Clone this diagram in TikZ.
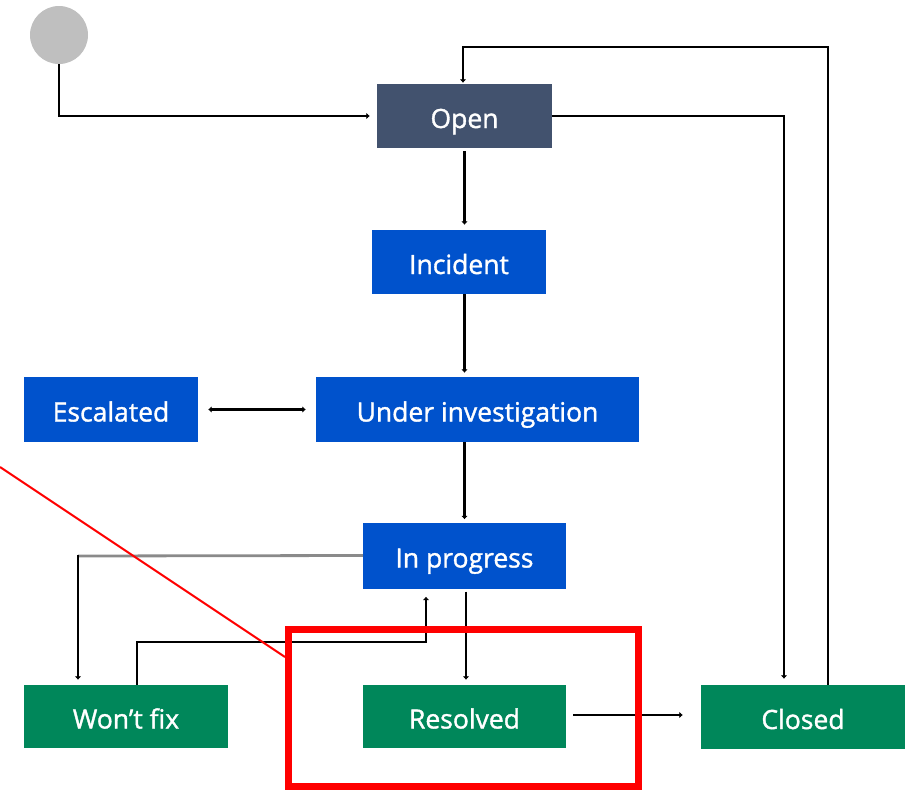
\documentclass[tikz,border=0pt]{standalone}
\usepackage{fontspec}
\setmainfont{Open Sans}
\newfontfamily\statefont{Open Sans}[FakeBold=1.3]
\usetikzlibrary{arrows.meta,calc}

\definecolor{slate}{HTML}{42526E}
\definecolor{stateblue}{HTML}{0052CC}
\definecolor{stategreen}{HTML}{00875A}
\definecolor{startgray}{HTML}{BFBFBF}
\definecolor{linkgray}{HTML}{8A8A8A}

\tikzset{
  state/.style={rectangle, inner sep=0pt, text=white,
    text height=24pt, text depth=0pt,
    font=\statefont\fontsize{26.5}{30}\selectfont},
  todo/.style={state, fill=stateblue},
  done/.style={state, fill=stategreen},
  flow/.style={draw=black, line width=2.8pt,
    -{Latex[length=3.5pt,width=6.5pt]}},
  twoway/.style={draw=black, line width=2.8pt,
    {Latex[length=3.5pt,width=6.5pt]}-{Latex[length=3.5pt,width=6.5pt]}},
  highlightbox/.style={draw=red, line width=7pt},
}

\begin{document}
\begin{tikzpicture}[x=1pt,y=-1pt]
  \useasboundingbox (0,0) rectangle (914,790);

  % start marker
  \node[circle, fill=startgray, minimum size=58pt, inner sep=0pt] (start) at (59,35) {};

  % workflow states
  \node[state, fill=slate, minimum width=175pt, minimum height=64pt] (open) at (464.5,116) {Open};
  \node[todo, minimum width=174pt, minimum height=64pt] (incident) at (459,262) {Incident};
  \node[todo, minimum width=174pt, minimum height=65pt] (escalated) at (111,409.5) {Escalated};
  \node[todo, minimum width=323pt, minimum height=65pt] (investigate) at (477.5,409.5) {Under investigation};
  \node[todo, minimum width=203pt, minimum height=66pt] (progress) at (464.5,555.5) {In progress};
  \node[done, minimum width=204pt, minimum height=63pt] (wontfix) at (126,716.5) {Won’t fix};
  \node[done, minimum width=203pt, minimum height=63pt] (resolved) at (464.5,716.5) {Resolved};
  \node[done, minimum width=204pt, minimum height=64pt] (closed) at (803,717) {Closed};

  % helper points for the routed connectors
  \coordinate (reopen) at (646,47);
  \coordinate (wfcorner) at (78,556);
  \coordinate (wfback) at (281,642);

  % transitions
  \draw[flow, shorten >=7pt] (start.south) |- (open.west);
  \draw[flow, shorten >=6pt] (open.east) -| ($(closed.north)+(-19,0)$);
  \draw[flow, shorten >=1pt] ($(closed.north)+(25,0)$) |- (reopen) -| ($(open.north)+(-1.5,0)$);
  \draw[flow, shorten <=3pt, shorten >=5pt] (open.south) -- (open.south |- incident.north);
  \draw[flow, shorten >=4pt] (open.south |- incident.south) -- (open.south |- investigate.north);
  \draw[twoway, shorten <=10pt, shorten >=10pt] (escalated.east) -- (investigate.west);
  \draw[flow, shorten >=3pt] (open.south |- investigate.south) -- (open.south |- progress.north);
  \draw[draw=linkgray, line width=2.8pt] (progress.west) -- (wfcorner);
  \draw[flow, shorten >=5pt] ($(wfcorner)+(0,-1.4)$) -- (wfcorner |- wontfix.north);
  \draw[flow, shorten >=8pt] ($(wontfix.north)+(11,0)$) |- (wfback) -| ($(progress.south)+(-38.5,0)$);
  \draw[flow, shorten <=3pt, shorten >=5pt] ($(progress.south)+(1.5,0)$) -- ($(resolved.north)+(1.5,0)$);
  \draw[flow, shorten <=7pt, shorten >=18pt] ($(resolved.east)+(0,-1.5)$) -- ($(closed.west)+(0,-2)$);

  % red highlight
  \draw[draw=red, line width=2pt] (0,467) -- (285,657);
  \draw[highlightbox] (288.5,629.5) rectangle (638.5,786.5);
\end{tikzpicture}
\end{document}
